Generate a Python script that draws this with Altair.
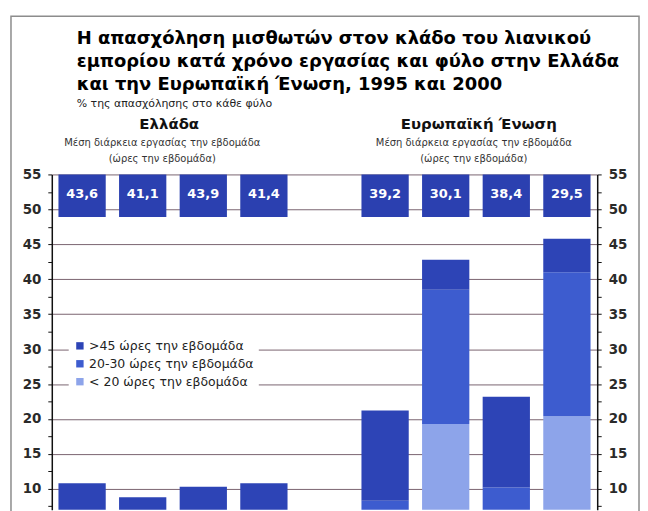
import altair as alt
import pandas as pd

# ---- data ----
slots = ["GR1", "GR2", "GR3", "GR4", "gap", "EU1", "EU2", "EU3", "EU4"]
bars = ["GR1", "GR2", "GR3", "GR4", "EU1", "EU2", "EU3", "EU4"]
avg_hours = ["43,6", "41,1", "43,9", "41,4", "39,2", "30,1", "38,4", "29,5"]
share_lt20 = [3.0, 3.0, 3.0, 3.0, 4.0, 19.3, 5.0, 20.4]
share_20_30 = [2.5, 2.5, 2.5, 2.5, 4.3, 19.2, 5.2, 20.6]
share_gt45 = [5.3, 3.3, 4.8, 5.3, 12.9, 4.3, 13.0, 4.8]
series = [">45 ώρες την εβδομάδα", "20-30 ώρες την εβδομάδα", "< 20 ώρες την εβδομάδα"]
colors = ["#2d44b6", "#3d5ccf", "#8da4ea"]
y_ticks = [7.5, 10, 12.5, 15, 17.5, 20, 22.5, 25, 27.5, 30, 32.5, 35,
           37.5, 40, 42.5, 45, 47.5, 50, 52.5, 55]

title_lines = [
    "Η απασχόληση μισθωτών στον κλάδο του λιανικού",
    "εμπορίου κατά χρόνο εργασίας και φύλο στην Ελλάδα",
    "και την Ευρωπαϊκή Ένωση, 1995 και 2000",
]
subtitle = "% της απασχόλησης στο κάθε φύλο"
group_names = ["Ελλάδα", "Ευρωπαϊκή Ένωση"]
group_sub1 = "Μέση διάρκεια εργασίας την εβδομάδα"
group_sub2 = "(ώρες την εβδομάδα)"

rows = []
for i, b in enumerate(bars):
    for k, (name, arr) in enumerate([(series[2], share_lt20),
                                     (series[1], share_20_30),
                                     (series[0], share_gt45)]):
        rows.append({"slot": b, "series": name, "value": arr[i], "order": k})
df = pd.DataFrame(rows)
boxes = pd.DataFrame({"slot": bars, "hours": avg_hours})

FONT = "DejaVu Sans"
yscale = alt.Scale(domain=[7, 55], nice=False, zero=False)
xscale = alt.Scale(domain=slots, paddingInner=0.22, paddingOuter=0.11)

def y_axis(orient, grid):
    return alt.Axis(
        orient=orient, values=y_ticks, title=None,
        labelExpr="datum.value % 5 === 0 ? datum.label : ''",
        grid=grid, gridColor="#7a6470", gridWidth=1,
        gridOpacity={"condition": {"test": "datum.value % 5 === 0", "value": 1}, "value": 0},
        tickSize=4, tickColor="#111", tickWidth=1,
        domainColor="#111", domainWidth=1.5,
        labelFont=FONT, labelFontSize=13.5, labelFontWeight="bold",
        labelColor="#2a2a2a", labelPadding=7,
    )

frame = alt.Chart(pd.DataFrame({"a": [0]})).mark_rect(
    fillOpacity=0, stroke="#8c8c8c", strokeWidth=1.5
).encode(x=alt.value(-41), x2=alt.value(590), y=alt.value(-159), y2=alt.value(345))

bar_layer = alt.Chart(df).mark_bar(clip=True).encode(
    x=alt.X("slot:N", scale=xscale, axis=None),
    y=alt.Y("value:Q", stack="zero", scale=yscale, axis=y_axis("left", True)),
    color=alt.Color("series:N", scale=alt.Scale(domain=series, range=colors),
                    legend=alt.Legend(orient="none", legendX=17, legendY=161, title=None,
                                      fillColor="white", padding=5, symbolType="square",
                                      symbolSize=55, symbolStrokeWidth=0,
                                      labelFont=FONT, labelFontSize=12.5, labelColor="#222",
                                      labelOffset=3, labelLimit=400, rowPadding=5)),
    order=alt.Order("order:Q"),
)

box_layer = alt.Chart(boxes).mark_bar(color="#2b40b0").encode(
    x=alt.X("slot:N", scale=xscale, axis=None),
    y=alt.YDatum(48.9, type="quantitative", scale=yscale, axis=y_axis("right", False)),
    y2=alt.Y2Datum(55),
)

box_text = alt.Chart(boxes).mark_text(
    color="white", fontWeight="bold", fontSize=13, font=FONT, baseline="middle"
).encode(
    x=alt.X("slot:N", scale=xscale, axis=None),
    y=alt.YDatum(52.2, type="quantitative", scale=yscale, axis=None),
    text="hours:N",
)

def txt(s, x, y, size, bold=False, align="left", color="#111"):
    return alt.Chart(pd.DataFrame({"t": [s]})).mark_text(
        align=align, baseline="alphabetic", fontSize=size,
        fontWeight="bold" if bold else "normal", font=FONT, color=color
    ).encode(x=alt.value(x), y=alt.value(y), text="t:N")

texts = [
    txt(title_lines[0], 25, -131, 18, True, color="#000"),
    txt(title_lines[1], 25, -108, 18, True, color="#000"),
    txt(title_lines[2], 25, -85, 18, True, color="#000"),
    txt(subtitle, 25, -68, 11, False, color="#222"),
    txt(group_names[0], 118, -46, 15, True, "center"),
    txt(group_sub1, 111, -29, 10, False, "center", "#333"),
    txt(group_sub2, 111, -12, 10, False, "center", "#333"),
    txt(group_names[1], 429, -46, 15, True, "center"),
    txt(group_sub1, 424, -29, 10, False, "center", "#333"),
    txt(group_sub2, 424, -12, 10, False, "center", "#333"),
]

chart = alt.layer(frame, bar_layer, box_layer, box_text, *texts).resolve_axis(
    y="independent"
).properties(
    width=548, height=337,
    padding={"left": 2, "top": 6, "right": 0, "bottom": 0},
    background="white",
).configure_view(strokeWidth=0)

chart.save("out.html", embed_options={"renderer": "svg", "actions": False})
